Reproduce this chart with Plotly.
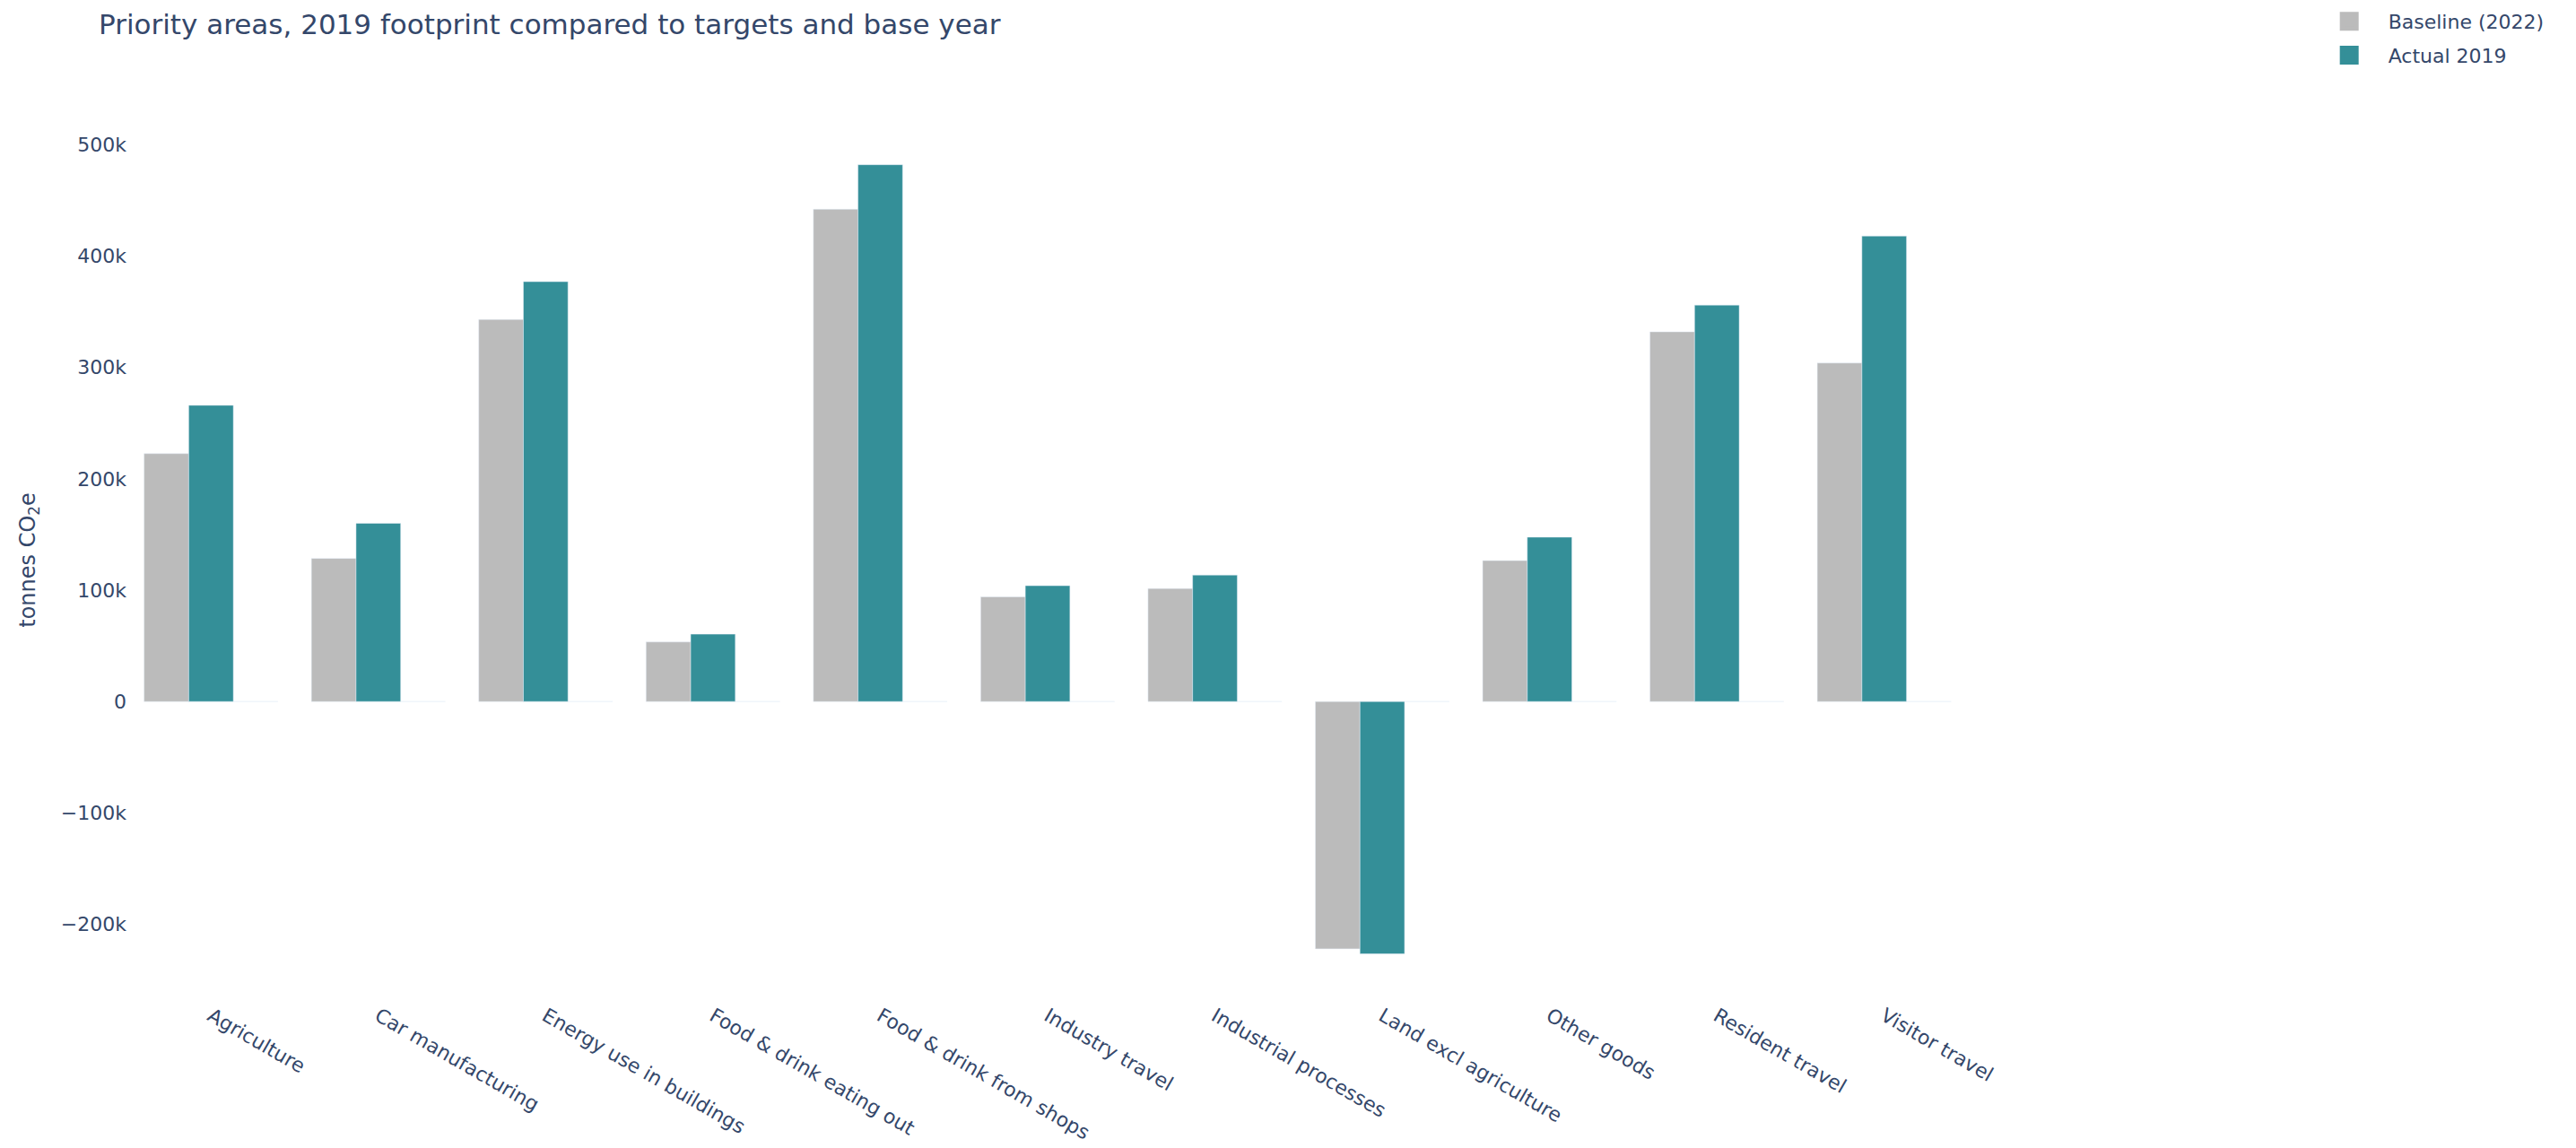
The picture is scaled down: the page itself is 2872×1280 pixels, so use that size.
import plotly.graph_objects as go

# ---- data ----
categories = [
    "Agriculture", "Car manufacturing", "Energy use in buildings",
    "Food & drink eating out", "Food & drink from shops", "Industry travel",
    "Industrial processes", "Land excl agriculture", "Other goods",
    "Resident travel", "Visitor travel",
]
baseline_2022 = [222600, 128500, 343000, 53500, 442000, 94000, 101500, -222000, 126500, 332000, 304000]
actual_2019 = [266000, 160000, 377000, 60500, 482000, 104000, 113600, -226500, 147600, 356000, 418000]
target = [0, 0, 0, 0, 0, 0, 0, 0, 0, 0, 0]

series_names = ["Baseline (2022)", "Actual 2019", "Target"]
series_colors = ["#BBBBBB", "#348F98", "#E5ECF6"]

FONT = "DejaVu Sans"
TXT = "#34476a"
EDGE = "#E5ECF6"

fig = go.Figure()
for name, vals, col, leg in zip(series_names, [baseline_2022, actual_2019, target],
                                series_colors, [True, True, False]):
    fig.add_trace(go.Bar(
        name=name, x=categories, y=vals, marker_color=col,
        marker_line=dict(color=EDGE, width=0.5),
        legendgroup=name, showlegend=False,
    ))
    if leg:
        # legend entry with a larger square swatch
        fig.add_trace(go.Scatter(
            name=name, x=[None], y=[None], mode="markers",
            marker=dict(symbol="square", size=16, color=col, line=dict(color=col, width=5)),
            legendgroup=name, showlegend=True, hoverinfo="skip",
        ))

fig.update_layout(
    template="plotly",
    width=2872, height=1280,
    paper_bgcolor="white", plot_bgcolor="white",
    font=dict(family=FONT, size=22, color=TXT),
    title=dict(text="Priority areas, 2019 footprint compared to targets and base year",
               x=0.0383, xref="container", xanchor="left",
               y=0.9785, yref="container", yanchor="middle",
               font=dict(family=FONT, size=31, color=TXT)),
    barmode="group", bargap=0.2, bargroupgap=0,
    margin=dict(l=142, r=678, t=134, b=165, autoexpand=False),
    legend=dict(x=1.186, xanchor="left", y=1.1335, yanchor="top",
                itemwidth=77, font=dict(family=FONT, size=22, color=TXT),
                tracegroupgap=6),
    xaxis=dict(range=[-0.5, 10.5], tickangle=30, automargin=False,
               showgrid=False, zeroline=False),
    yaxis=dict(range=[-268000, 522000], dtick=100000, automargin=False,
               showgrid=False, zeroline=False,
               title=dict(text="tonnes CO<sub>2</sub>e", standoff=21,
                          font=dict(family=FONT, size=24, color=TXT))),
)

fig.write_html("out.html", config={"displayModeBar": False},
               post_script="document.body.style.margin='0';")
